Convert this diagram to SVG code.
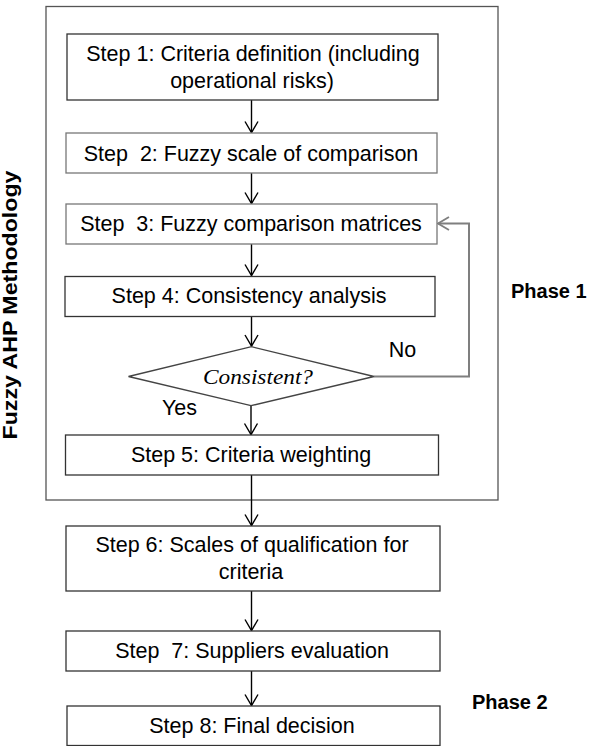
<svg xmlns="http://www.w3.org/2000/svg" width="592" height="746" viewBox="0 0 592 746">
<style>
.box{fill:#fff;stroke:#333;stroke-width:1.3}
.lt{stroke:#777}
.t{font-family:"Liberation Sans",Arial,sans-serif;font-size:21.5px;fill:#000;text-anchor:middle;white-space:pre}
.b{font-family:"Liberation Sans",Arial,sans-serif;font-weight:bold;font-size:20px;fill:#000}
.c{fill:none;stroke:#000;stroke-width:1.4}
.fb{fill:none;stroke:#7f7f7f;stroke-width:2}
</style>
<defs>
<marker id="ah" markerUnits="userSpaceOnUse" viewBox="-14 -9 16 18" markerWidth="16" markerHeight="18" refX="0" refY="0" orient="auto">
<path d="M-11,-6.5 L0,0 L-11,6.5" fill="none" stroke="#000" stroke-width="1.4"/>
</marker>
<marker id="ahg" markerUnits="userSpaceOnUse" viewBox="-14 -9 16 18" markerWidth="16" markerHeight="18" refX="0" refY="0" orient="auto">
<path d="M-11,-6.5 L0,0 L-11,6.5" fill="none" stroke="#7f7f7f" stroke-width="1.8"/>
</marker>
</defs>
<rect width="592" height="746" fill="#fff"/>
<g id="phase1-frame">
<rect x="46" y="6.5" width="452" height="493.5" fill="none" stroke="#555" stroke-width="1.3"/>
</g>
<g id="label-methodology">
<text class="b" font-size="15" transform="translate(16.5,305) rotate(-90)" text-anchor="middle" textLength="269" lengthAdjust="spacingAndGlyphs">Fuzzy AHP Methodology</text>
</g>
<g id="label-phase1"><text class="b" x="511" y="298">Phase 1</text></g>
<g id="label-phase2"><text class="b" x="472" y="709">Phase 2</text></g>
<g id="connectors">
<line class="c" x1="251.5" y1="100" x2="251.5" y2="132.5" marker-end="url(#ah)"/>
<line class="c" x1="251.5" y1="173" x2="251.5" y2="203.5" marker-end="url(#ah)"/>
<line class="c" x1="251.5" y1="244" x2="251.5" y2="275.5" marker-end="url(#ah)"/>
<line class="c" x1="251.5" y1="316" x2="251.5" y2="346" marker-end="url(#ah)"/>
<line class="c" x1="251" y1="406" x2="251" y2="434.5" marker-end="url(#ah)"/>
<line class="c" x1="251.5" y1="475" x2="251.5" y2="525.5" marker-end="url(#ah)"/>
<line class="c" x1="251.5" y1="591" x2="251.5" y2="630.5" marker-end="url(#ah)"/>
<line class="c" x1="251.5" y1="671" x2="251.5" y2="705.5" marker-end="url(#ah)"/>
<polyline class="fb" points="374,376.5 469,376.5 469,223.5 438,223.5" marker-end="url(#ahg)"/>
<text class="t" x="402.5" y="357">No</text>
<text class="t" x="179.5" y="415">Yes</text>
</g>
<g id="step1">
<rect class="box" x="67" y="34" width="371" height="66" stroke="#222"/>
<text class="t" x="253" y="61">Step 1: Criteria definition (including</text>
<text class="t" x="252" y="88">operational risks)</text>
</g>
<g id="step2">
<rect class="box lt" x="66" y="133" width="371" height="40"/>
<text class="t" x="251" y="160.5">Step  2: Fuzzy scale of comparison</text>
</g>
<g id="step3">
<rect class="box lt" x="66" y="204" width="371" height="40"/>
<text class="t" x="251" y="231">Step  3: Fuzzy comparison matrices</text>
</g>
<g id="step4">
<rect class="box" x="65" y="276.5" width="370" height="40"/>
<text class="t" x="249" y="303">Step 4: Consistency analysis</text>
</g>
<g id="decision">
<polygon points="251.5,346.7 374,376.5 251,405.7 128.5,376.5" fill="#fff" stroke="#444" stroke-width="1.3"/>
<text x="258" y="383.5" font-family="'Liberation Serif','Times New Roman',serif" font-style="italic" font-size="22" text-anchor="middle" textLength="110" lengthAdjust="spacingAndGlyphs">Consistent?</text>
</g>
<g id="step5">
<rect class="box" x="65.5" y="435" width="373" height="40"/>
<text class="t" x="251" y="462">Step 5: Criteria weighting</text>
</g>
<g id="step6">
<rect class="box" x="66" y="526" width="374" height="65"/>
<text class="t" x="252" y="552">Step 6: Scales of qualification for</text>
<text class="t" x="251" y="578.5">criteria</text>
</g>
<g id="step7">
<rect class="box" x="66" y="631" width="374" height="40" stroke="#444"/>
<text class="t" x="252" y="658">Step  7: Suppliers evaluation</text>
</g>
<g id="step8">
<rect class="box" x="67" y="706" width="373" height="39.5" stroke="#888"/>
<text class="t" x="252" y="732.5">Step 8: Final decision</text>
</g>
</svg>
